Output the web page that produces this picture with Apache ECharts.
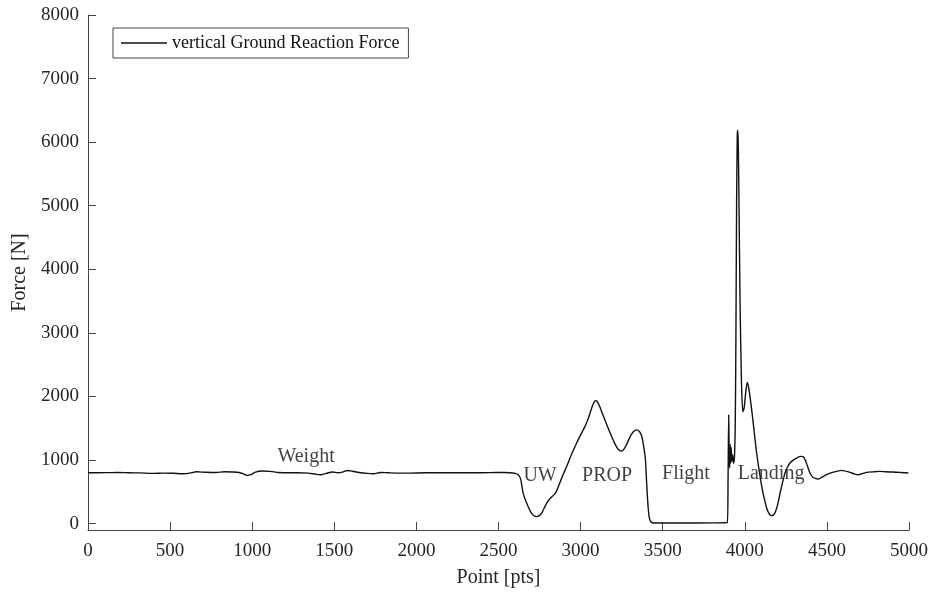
<!DOCTYPE html>
<html>
<head>
<meta charset="utf-8">
<script src="https://cdn.jsdelivr.net/npm/echarts@6/dist/echarts.min.js"></script>
<style>
  html, body { margin: 0; padding: 0; background: #fff; }
  #chart { width: 931px; height: 594px; }
</style>
</head>
<body>
<div id="chart"></div>
<script>
// sample index and vertical force
const pointIdx = [
    0, 60, 120, 180, 250, 320, 400, 460, 520, 580, 620, 660, 720, 780, 830, 880, 920, 950, 970, 990,
    1020, 1060, 1110, 1160, 1220, 1280, 1340, 1390, 1420, 1450, 1490, 1520, 1550, 1580, 1610, 1650, 1700, 1740, 1780, 1830,
    1900, 1960, 2050, 2150, 2250, 2350, 2450, 2530, 2570, 2600, 2620,
    2635, 2650, 2672, 2695, 2715, 2733, 2750, 2765, 2785, 2800, 2820, 2840, 2855, 2870, 2895, 2915, 2945, 2976, 3005,
    3027, 3045, 3060, 3075, 3090, 3100, 3115, 3139, 3165, 3189, 3210, 3230, 3250, 3265, 3281, 3300, 3320, 3340, 3358, 3372,
    3385, 3395, 3402, 3410, 3418, 3428, 3445, 3600, 3800, 3893,
    3898, 3902, 3905, 3908, 3911, 3914, 3917, 3921, 3926, 3931, 3937, 3942, 3946, 3950, 3954, 3957, 3960, 3964, 3971, 3980,
    3988, 3996, 4005, 4015, 4025, 4042, 4057, 4072, 4088, 4103, 4118, 4133, 4147, 4160, 4173, 4184, 4200, 4215, 4230, 4245,
    4260, 4275, 4295, 4316, 4340, 4356, 4370, 4385, 4400, 4415, 4448, 4470, 4498, 4540, 4590, 4641, 4670, 4691, 4720, 4742,
    4780, 4823, 4860, 4904, 4950, 4996
];
const forceN = [
    800, 800, 802, 805, 800, 798, 790, 795, 792, 785, 795, 815, 808, 805, 815, 812, 805, 780, 758, 770,
    810, 828, 822, 805, 800, 800, 795, 775, 770, 790, 812, 800, 810, 835, 825, 805, 790, 785, 805, 800,
    795, 795, 800, 800, 802, 800, 802, 805, 800, 790, 770,
    700, 480, 320, 190, 125, 110, 130, 175, 280, 350, 410, 460, 520, 620, 780, 900, 1090, 1268, 1420,
    1530, 1640, 1760, 1870, 1935, 1925, 1850, 1690, 1520, 1372, 1250, 1165, 1140, 1175, 1250, 1360, 1440, 1475, 1450, 1380,
    1200, 1000, 650, 300, 100, 30, 10, 10, 12, 15,
    700, 1710, 1050, 880, 1250, 950, 1200, 980, 1080, 950, 1050, 1600, 3000, 5000, 6100, 6190, 6000, 5200, 3500, 2200,
    1760, 1820, 2050, 2220, 2120, 1790, 1450, 1111, 830, 586, 400, 246, 160, 126, 135, 170, 300, 482, 650, 797,
    890, 954, 1000, 1032, 1058, 1055, 990, 880, 780, 730, 702, 730, 770, 810, 838, 806, 780, 770, 790, 806,
    815, 822, 815, 812, 805, 797
];

// phase annotations
const phaseNames = ['Weight', 'UW', 'PROP', 'Flight', 'Landing'];
const phaseX = [1328, 2753, 3161, 3642, 4160];
const phaseY = [1053, 754, 754, 786, 786];

const yTicks = [0, 1000, 2000, 3000, 4000, 5000, 6000, 7000, 8000];

const serif = 'Liberation Serif';
const inkColor = '#262626';

const chart = echarts.init(document.getElementById('chart'));
chart.setOption({
    animation: false,
    backgroundColor: '#fff',
    grid: { left: 88, right: 22, top: 15, bottom: 64, containLabel: false },
    legend: {
        left: 113,
        top: 28,
        padding: [6, 9, 6, 8],
        borderColor: '#444',
        borderWidth: 1,
        icon: 'rect',
        itemWidth: 46,
        itemHeight: 1.3,
        data: ['vertical Ground Reaction Force'],
        textStyle: { fontFamily: serif, fontSize: 18, color: '#111' }
    },
    xAxis: {
        type: 'value',
        min: 0,
        max: 5000,
        interval: 500,
        name: 'Point [pts]',
        nameLocation: 'middle',
        nameGap: 38,
        nameTextStyle: { fontFamily: serif, fontSize: 20, color: inkColor },
        axisLine: { onZero: false, lineStyle: { color: '#444', width: 1 } },
        axisTick: { inside: true, length: 8, lineStyle: { color: '#444' } },
        axisLabel: { margin: 12, fontFamily: serif, fontSize: 19, color: inkColor, formatter: v => String(v) },
        splitLine: { show: false }
    },
    yAxis: {
        type: 'value',
        min: -100,
        max: 8000,
        name: 'Force [N]',
        nameLocation: 'middle',
        nameGap: 55,
        nameTextStyle: { fontFamily: serif, fontSize: 20, color: inkColor },
        axisLine: { show: true, onZero: false, lineStyle: { color: '#444', width: 1 } },
        axisTick: { show: true, inside: true, length: 8, customValues: yTicks, lineStyle: { color: '#444' } },
        axisLabel: { margin: 9, fontFamily: serif, fontSize: 19, color: inkColor, customValues: yTicks, formatter: v => String(v) },
        splitLine: { show: false }
    },
    series: [
        {
            name: 'vertical Ground Reaction Force',
            type: 'line',
            symbol: 'none',
            smooth: 0.25,
            data: pointIdx.map((x, i) => [x, forceN[i]]),
            lineStyle: { color: '#111', width: 1.4 },
            itemStyle: { color: '#111' },
            z: 3
        },
        {
            name: 'phases',
            type: 'scatter',
            symbolSize: 0,
            silent: true,
            data: phaseNames.map((n, i) => ({ name: n, value: [phaseX[i], phaseY[i]] })),
            label: {
                show: true,
                position: 'inside',
                formatter: p => p.name,
                fontFamily: serif,
                fontSize: 20,
                color: '#111'
            },
            z: 4
        }
    ]
});
</script>
</body>
</html>
